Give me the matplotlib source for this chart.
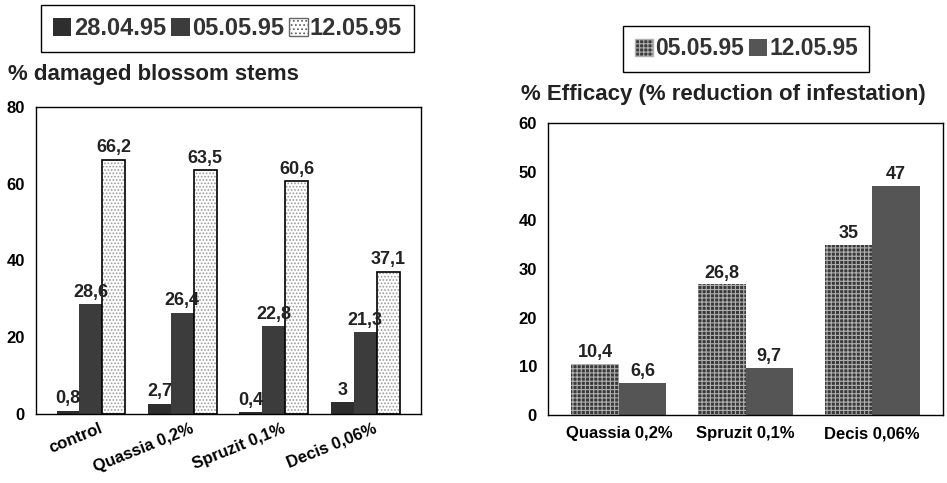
import matplotlib
matplotlib.use("Agg")
import matplotlib.pyplot as plt
import matplotlib.transforms as mtransforms
import numpy as np
from matplotlib.patches import Patch

plt.rcParams["font.family"] = ["Liberation Sans", "DejaVu Sans"]
plt.rcParams["font.weight"] = "bold"
plt.rcParams["hatch.linewidth"] = 0.8

# left chart: % damaged blossom stems
left_categories = ["control", "Quassia 0,2%", "Spruzit 0,1%", "Decis 0,06%"]
left_dates = ["28.04.95", "05.05.95", "12.05.95"]
left_values = [
    [0.8, 2.7, 0.4, 3],
    [28.6, 26.4, 22.8, 21.3],
    [66.2, 63.5, 60.6, 37.1],
]
left_labels = [
    ["0,8", "2,7", "0,4", "3"],
    ["28,6", "26,4", "22,8", "21,3"],
    ["66,2", "63,5", "60,6", "37,1"],
]

# right chart: % efficacy
right_categories = ["Quassia 0,2%", "Spruzit 0,1%", "Decis 0,06%"]
right_dates = ["05.05.95", "12.05.95"]
right_values = [
    [10.4, 26.8, 35],
    [6.6, 9.7, 47],
]
right_labels = [
    ["10,4", "26,8", "35"],
    ["6,6", "9,7", "47"],
]

fig = plt.figure(figsize=(9.47, 4.83), dpi=100)

# ---- left ----
ax1 = fig.add_axes([0.038, 0.143, 0.4066, 0.6356])
x = np.arange(len(left_categories))
w = 0.25
left_styles = [
    dict(color="#2e2e2e", hatch=None),
    dict(color="#3c3c3c", hatch=None),
    dict(color="white", hatch="....."),
]
for i, (vals, labs, st) in enumerate(zip(left_values, left_labels, left_styles)):
    pos = x + (i - 1) * w
    if st["hatch"]:
        ax1.bar(pos, vals, w, facecolor="white", edgecolor="#999999",
                hatch=st["hatch"], linewidth=0)
        ax1.bar(pos, vals, w, facecolor="none", edgecolor="black", linewidth=1.2)
    else:
        ax1.bar(pos, vals, w, color=st["color"], linewidth=0)
    for p, v, t in zip(pos, vals, labs):
        ax1.text(p, v + 0.9, t, ha="center", va="bottom", fontsize=13,
                 fontweight="bold", color="#222222")
ax1.set_ylim(0, 80)
ax1.set_xlim(-0.6, 3.61)
ax1.set_yticks([0, 20, 40, 60, 80])
ax1.set_xticks(x)
ax1.set_xticklabels(left_categories, rotation=22, ha="right",
                    rotation_mode="anchor", fontsize=14, fontweight="bold")
ax1.tick_params(length=0, labelsize=12, pad=8)
ax1.tick_params(axis="x", pad=5)
shift = mtransforms.ScaledTranslation(8 / 100, 0, fig.dpi_scale_trans)
for lab in ax1.get_xticklabels():
    lab.set_transform(lab.get_transform() + shift)
for lab in ax1.get_yticklabels():
    lab.set_fontweight("bold")
for s in ax1.spines.values():
    s.set_linewidth(1.0)

fig.text(0.0084, 0.845, "% damaged blossom stems", ha="left", va="center",
         fontsize=16, fontweight="bold", color="#222222")

h1 = [Patch(facecolor="#2e2e2e"), Patch(facecolor="#3c3c3c"),
      Patch(facecolor="white", edgecolor="#666", hatch="....")]
leg1 = fig.legend(h1, left_dates, loc="center", bbox_to_anchor=(0.24, 0.941),
                  ncol=3, fancybox=False, edgecolor="black", framealpha=1,
                  handlelength=0.8, handleheight=0.8, handletextpad=0.1,
                  columnspacing=0.2, borderpad=0.5,
                  prop=dict(size=17, weight="bold"))
leg1.get_frame().set_linewidth(1.0)
for t in leg1.get_texts():
    t.set_color("#333333")

# ---- right ----
ax2 = fig.add_axes([0.5787, 0.141, 0.4171, 0.6046])
x2 = np.arange(len(right_categories))
w2 = 0.375
for i, (vals, labs) in enumerate(zip(right_values, right_labels)):
    pos = x2 + (i - 0.5) * w2
    if i == 0:
        ax2.bar(pos, vals, w2, facecolor="#3a3a3a", edgecolor="#b0b0b0",
                hatch="++++", linewidth=0)
    else:
        ax2.bar(pos, vals, w2, color="#555555", linewidth=0)
    for p, v, t in zip(pos, vals, labs):
        ax2.text(p, v + 0.6, t, ha="center", va="bottom", fontsize=13,
                 fontweight="bold", color="#222222")
ax2.set_ylim(0, 60)
ax2.set_xlim(-0.56, 2.56)
ax2.set_yticks([0, 10, 20, 30, 40, 50, 60])
ax2.set_xticks(x2)
ax2.set_xticklabels(right_categories, fontsize=12.5, fontweight="bold")
ax2.tick_params(length=0, labelsize=12, pad=8)
for lab in ax2.get_yticklabels():
    lab.set_fontweight("bold")
for s in ax2.spines.values():
    s.set_linewidth(1.0)

fig.text(0.550, 0.805, "% Efficacy (% reduction of infestation)", ha="left",
         va="center", fontsize=16, fontweight="bold", color="#222222")

h2 = [Patch(facecolor="#3a3a3a", edgecolor="#b0b0b0", hatch="++++"),
      Patch(facecolor="#555555")]
leg2 = fig.legend(h2, right_dates, loc="center", bbox_to_anchor=(0.788, 0.899),
                  ncol=2, fancybox=False, edgecolor="black", framealpha=1,
                  handlelength=0.8, handleheight=0.8, handletextpad=0.1,
                  columnspacing=0.2, borderpad=0.5,
                  prop=dict(size=16.5, weight="bold"))
leg2.get_frame().set_linewidth(1.0)
for t in leg2.get_texts():
    t.set_color("#333333")

fig.savefig("out.png", dpi=100)
